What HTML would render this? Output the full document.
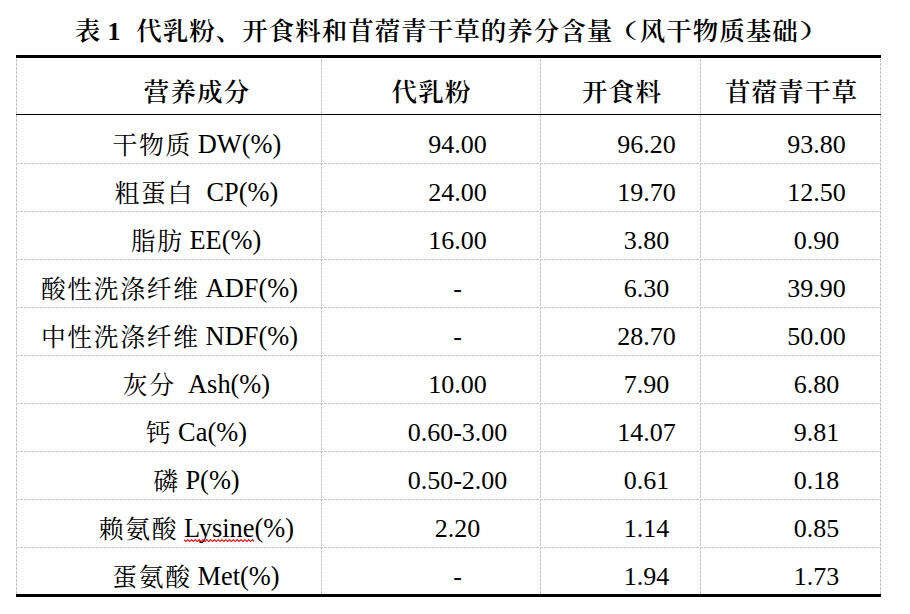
<!DOCTYPE html>
<html lang="zh-CN"><head><meta charset="utf-8"><title>表1</title>
<style>
html,body{margin:0;padding:0;background:#fff;}
body{width:910px;height:614px;position:relative;overflow:hidden;
 font-family:"Liberation Serif","Noto Serif CJK SC",serif;color:#000;}
.t{position:absolute;white-space:nowrap;transform:translateX(-50%);
 font-size:26.0px;line-height:40px;height:40px;}
.c{font-size:24.8px;letter-spacing:1.70px;margin-right:-1.70px;padding-left:0.85px;padding-right:0.85px;position:relative;top:0.8px;}
.l{font-size:26.4px;margin-top:-0.8px;}
.b{font-weight:600;font-size:25.5px;letter-spacing:1px;}
.b b{font-weight:700;font-size:26px;letter-spacing:0;position:relative;left:-1px;}
.pl,.pr{display:inline-block;position:relative;transform:scale(1.3,0.8);}
.pl{left:-4.5px;}.pr{left:3.5px;}
.h{font-weight:600;font-size:25.5px;letter-spacing:1.17px;text-indent:1.17px;}
.hl{position:absolute;background:#000;}
.dv{position:absolute;width:1px;top:59px;height:535px;
 background:repeating-linear-gradient(to bottom,#c2c2c2 0,#c2c2c2 3px,transparent 3px,transparent 4px);}
.dh{position:absolute;height:1px;left:16px;width:864px;
 background:repeating-linear-gradient(to right,#cacaca 0,#cacaca 3px,transparent 3px,transparent 4px);}
.sq{position:relative;}
.sq svg{position:absolute;left:0;top:25.5px;width:100%;height:3.2px;}
</style></head><body>
<div class="hl" style="left:16px;top:55px;width:865px;height:3px"></div>
<div class="hl" style="left:16px;top:114px;width:865px;height:1px"></div>
<div class="hl" style="left:16px;top:594px;width:865px;height:3px"></div>
<div class="dv" style="left:16px"></div>
<div class="dv" style="left:321px"></div>
<div class="dv" style="left:540px"></div>
<div class="dv" style="left:700px"></div>
<div class="dv" style="left:880px"></div>
<div class="dh" style="top:163px"></div>
<div class="dh" style="top:211px"></div>
<div class="dh" style="top:259px"></div>
<div class="dh" style="top:307px"></div>
<div class="dh" style="top:355px"></div>
<div class="dh" style="top:403px"></div>
<div class="dh" style="top:451px"></div>
<div class="dh" style="top:499px"></div>
<div class="dh" style="top:547px"></div>
<div class="t b" style="left:450px;top:12.40px">表 <b>1</b>&nbsp; 代乳粉、开食料和苜蓿青干草的养分含量<span class="pl">（</span>风干物质基础<span class="pr">）</span></div>
<div class="t h" style="left:196.5px;top:73.00px">营养成分</div>
<div class="t h" style="left:431px;top:73.00px">代乳粉</div>
<div class="t h" style="left:621.5px;top:73.00px">开食料</div>
<div class="t h" style="left:791px;top:73.00px">苜蓿青干草</div>
<div class="t l" style="left:196.5px;top:124.80px"><span class="c">干物质</span> DW(%)</div>
<div class="t " style="left:457.5px;top:124.80px">94.00</div>
<div class="t " style="left:646.5px;top:124.80px">96.20</div>
<div class="t " style="left:816.5px;top:124.80px">93.80</div>
<div class="t l" style="left:196px;top:172.80px"><span class="c">粗蛋白</span>  CP(%)</div>
<div class="t " style="left:457.5px;top:172.80px">24.00</div>
<div class="t " style="left:646.5px;top:172.80px">19.70</div>
<div class="t " style="left:816.5px;top:172.80px">12.50</div>
<div class="t l" style="left:195.5px;top:220.80px"><span class="c">脂肪</span> EE(%)</div>
<div class="t " style="left:457.5px;top:220.80px">16.00</div>
<div class="t " style="left:646.5px;top:220.80px">3.80</div>
<div class="t " style="left:816.5px;top:220.80px">0.90</div>
<div class="t l" style="left:169px;top:268.80px"><span class="c">酸性洗涤纤维</span> ADF(%)</div>
<div class="t " style="left:457.5px;top:268.80px">-</div>
<div class="t " style="left:646.5px;top:268.80px">6.30</div>
<div class="t " style="left:816.5px;top:268.80px">39.90</div>
<div class="t l" style="left:169px;top:316.80px"><span class="c">中性洗涤纤维</span> NDF(%)</div>
<div class="t " style="left:457.5px;top:316.80px">-</div>
<div class="t " style="left:646.5px;top:316.80px">28.70</div>
<div class="t " style="left:816.5px;top:316.80px">50.00</div>
<div class="t l" style="left:196px;top:364.80px"><span class="c">灰分</span>  Ash(%)</div>
<div class="t " style="left:457.5px;top:364.80px">10.00</div>
<div class="t " style="left:646.5px;top:364.80px">7.90</div>
<div class="t " style="left:816.5px;top:364.80px">6.80</div>
<div class="t l" style="left:196px;top:412.80px"><span class="c">钙</span> Ca(%)</div>
<div class="t " style="left:457.5px;top:412.80px">0.60-3.00</div>
<div class="t " style="left:646.5px;top:412.80px">14.07</div>
<div class="t " style="left:816.5px;top:412.80px">9.81</div>
<div class="t l" style="left:196px;top:460.80px"><span class="c">磷</span> P(%)</div>
<div class="t " style="left:457.5px;top:460.80px">0.50-2.00</div>
<div class="t " style="left:646.5px;top:460.80px">0.61</div>
<div class="t " style="left:816.5px;top:460.80px">0.18</div>
<div class="t l" style="left:196px;top:508.80px"><span class="c">赖氨酸</span> <span class="sq">Lysine<svg viewBox="0 0 74 3.2" preserveAspectRatio="none"><polyline points="0,0.6 2,2.6 4,0.6 6,2.6 8,0.6 10,2.6 12,0.6 14,2.6 16,0.6 18,2.6 20,0.6 22,2.6 24,0.6 26,2.6 28,0.6 30,2.6 32,0.6 34,2.6 36,0.6 38,2.6 40,0.6 42,2.6 44,0.6 46,2.6 48,0.6 50,2.6 52,0.6 54,2.6 56,0.6 58,2.6 60,0.6 62,2.6 64,0.6 66,2.6 68,0.6 70,2.6 72,0.6 74,2.6" fill="none" stroke="#f00" stroke-width="1.1"/></svg></span>(%)</div>
<div class="t " style="left:457.5px;top:508.80px">2.20</div>
<div class="t " style="left:646.5px;top:508.80px">1.14</div>
<div class="t " style="left:816.5px;top:508.80px">0.85</div>
<div class="t l" style="left:195.5px;top:556.80px"><span class="c">蛋氨酸</span> Met(%)</div>
<div class="t " style="left:457.5px;top:556.80px">-</div>
<div class="t " style="left:646.5px;top:556.80px">1.94</div>
<div class="t " style="left:816.5px;top:556.80px">1.73</div>
</body></html>
